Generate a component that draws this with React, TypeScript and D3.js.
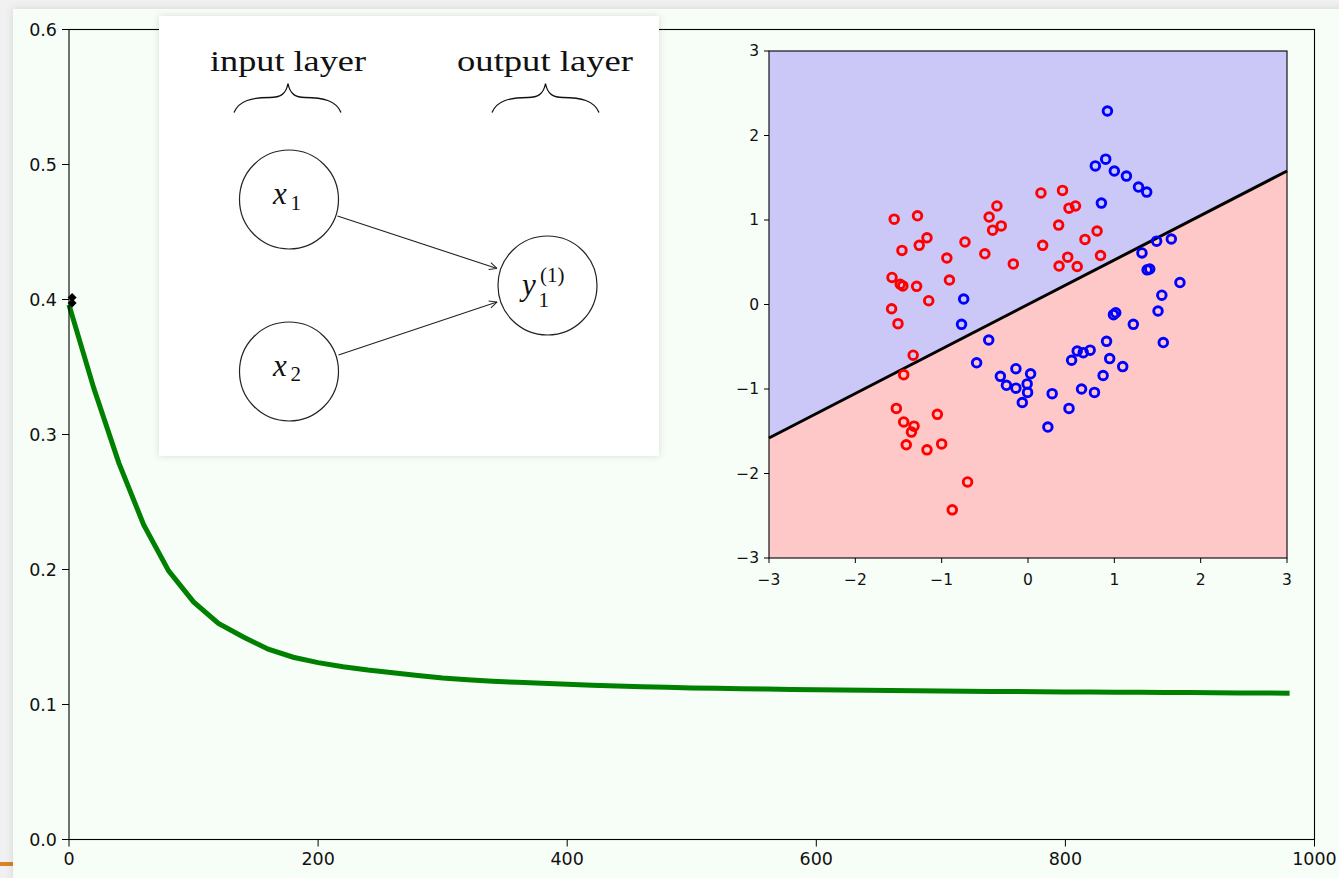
import React from 'react';
import * as d3 from 'd3';

// ---------- main loss curve ----------
const epochs = [0, 20, 40, 60, 80, 100, 120, 140, 160, 180, 200, 220, 240, 260, 280, 300, 320, 340, 360, 380,
  400, 420, 440, 460, 480, 500, 520, 540, 560, 580, 600, 620, 640, 660, 680, 700, 720, 740, 760, 780,
  800, 820, 840, 860, 880, 900, 920, 940, 960, 980];
const loss = [0.396, 0.334, 0.279, 0.233, 0.199, 0.176, 0.160, 0.150, 0.141, 0.135, 0.131, 0.128, 0.1255, 0.1235,
  0.1215, 0.1196, 0.1183, 0.1173, 0.1164, 0.1157, 0.1150, 0.1143, 0.1137, 0.1132, 0.1127, 0.1123, 0.1120,
  0.1117, 0.1114, 0.1112, 0.1110, 0.1108, 0.1106, 0.1104, 0.1102, 0.1100, 0.1099, 0.1097, 0.1096, 0.1095,
  0.1093, 0.1092, 0.1091, 0.1090, 0.1089, 0.1088, 0.1087, 0.1086, 0.1085, 0.1084];
const startMarkerX = [2.5, 2.5];
const startMarkerY = [0.4015, 0.3975];
const mainXTicks = [0, 200, 400, 600, 800, 1000];
const mainYTicks = [0.0, 0.1, 0.2, 0.3, 0.4, 0.5, 0.6];

// ---------- inset scatter ----------
const redX = [-1.55, -1.28, -1.46, -1.26, -1.17, -0.94, -0.73, -0.50, -0.45, -0.36, -0.31, -0.41, -0.17, 0.15, 0.17,
  -1.575, -1.48, -1.45, -1.29, -0.91, -1.15, -1.58, 0.40, 0.475, 0.55, 0.355, 0.80, 0.66, 0.46, 0.36, 0.57, 0.84,
  -1.506, -1.33, -1.44, -1.525, -1.44, -1.32, -1.35, -1.05, -1.41, -1.17, -1.00, -0.70, -0.877];
const redY = [1.01, 1.05, 0.64, 0.70, 0.79, 0.55, 0.74, 0.60, 1.035, 1.166, 0.93, 0.88, 0.48, 1.32, 0.70,
  0.32, 0.24, 0.22, 0.215, 0.29, 0.045, -0.05, 1.35, 1.14, 1.166, 0.94, 0.87, 0.77, 0.56, 0.455, 0.45, 0.58,
  -0.227, -0.60, -0.83, -1.23, -1.39, -1.44, -1.51, -1.30, -1.66, -1.72, -1.65, -2.10, -2.43];
const blueX = [0.92, 0.90, 0.78, 1.00, 1.14, 1.28, 1.375, 0.85, 1.49, 1.66, 1.32, 1.38, 1.41, 1.76, 1.55,
  -0.745, -0.77, -0.455, -0.595, -0.14, -0.32, 0.03, -0.25, -0.14, -0.01, -0.005, -0.066, 0.28, 0.23,
  1.506, 0.99, 1.016, 1.22, 1.567, 0.91, 0.57, 0.64, 0.72, 0.505, 0.946, 1.097, 0.87, 0.62, 0.77, 0.475];
const blueY = [2.29, 1.72, 1.64, 1.58, 1.52, 1.39, 1.33, 1.20, 0.75, 0.775, 0.61, 0.41, 0.42, 0.26, 0.11,
  0.065, -0.235, -0.42, -0.69, -0.76, -0.85, -0.82, -0.956, -0.99, -0.94, -1.04, -1.16, -1.055, -1.45,
  -0.077, -0.12, -0.097, -0.235, -0.45, -0.436, -0.55, -0.57, -0.54, -0.66, -0.64, -0.735, -0.84, -1.00, -1.04, -1.23];
const boundaryX = [-3, 3];
const boundaryY = [-1.58, 1.58];
const insetTicks = [-3, -2, -1, 0, 1, 2, 3];

const fmtMinus = (v: number) => String(v).replace('-', '\u2212');

export default function App() {
  const mx = d3.scaleLinear().domain([0, 1000]).range([69, 1314.5]);
  const my = d3.scaleLinear().domain([0, 0.6]).range([839.5, 29.5]);
  const ix = d3.scaleLinear().domain([-3, 3]).range([769, 1287]);
  const iy = d3.scaleLinear().domain([-3, 3]).range([558, 51]);

  const lossLine = d3.line<number>().x((_, i) => mx(epochs[i])).y((d) => my(d))(loss) || '';

  const bl = [ix(boundaryX[0]), iy(boundaryY[0])];
  const br = [ix(boundaryX[1]), iy(boundaryY[1])];
  const bluePoly = [[ix(-3), iy(3)], [ix(3), iy(3)], br, bl].map((p) => p.join(',')).join(' ');
  const redPoly = [bl, br, [ix(3), iy(-3)], [ix(-3), iy(-3)]].map((p) => p.join(',')).join(' ');

  const tickFont = { fontFamily: "'DejaVu Sans'", fill: '#111' } as const;
  const serif = 'Liberation Serif';

  const brace = (cx: number, left: number, right: number) => {
    const top = 83.5;
    const mid = 97.5;
    const bot = 112.5;
    return `M ${left},${bot} C ${left + 5},${mid + 3} ${left + 18},${mid} ${left + 36},${mid}
      C ${cx - 8},${mid} ${cx - 2},${mid - 3} ${cx},${top}
      C ${cx + 2},${mid - 3} ${cx + 8},${mid} ${right - 36},${mid}
      C ${right - 18},${mid} ${right - 5},${mid + 3} ${right},${bot}`;
  };

  return (
    <svg width={1339} height={878} style={{ position: 'absolute', left: 0, top: 0, display: 'block' }}>
      <defs>
        <filter id="cardShadow" x="-5%" y="-5%" width="110%" height="110%">
          <feDropShadow dx="0" dy="0" stdDeviation="4" floodColor="#000" floodOpacity="0.12" />
        </filter>
        <filter id="panelShadow" x="-10%" y="-10%" width="120%" height="120%">
          <feDropShadow dx="0" dy="0" stdDeviation="3.5" floodColor="#000" floodOpacity="0.13" />
        </filter>
        <marker id="arrowHead" viewBox="0 0 10 10" refX="9.5" refY="5" markerWidth="9" markerHeight="9"
          orient="auto" markerUnits="userSpaceOnUse">
          <path d="M 1,1 L 9.5,5 L 1,9" fill="none" stroke="#222" strokeWidth="1.1" />
        </marker>
      </defs>

      {/* page & card */}
      <rect x={0} y={0} width={1339} height={878} fill="#f1f1f2" />
      <rect x={0} y={862} width={14} height={4} fill="#d9822b" />
      <rect x={13} y={9} width={1340} height={880} fill="#f7fdf7" filter="url(#cardShadow)" />

      {/* main axes */}
      <g>
        <path d={lossLine} fill="none" stroke="#008000" strokeWidth={5} strokeLinejoin="miter" />
        {startMarkerX.map((v, i) => {
          const cx = mx(v);
          const cy = my(startMarkerY[i]);
          return <path key={i} d={`M ${cx - 4.5},${cy} L ${cx},${cy - 4.5} L ${cx + 4.5},${cy} L ${cx},${cy + 4.5} Z`} fill="#000" />;
        })}
        <rect x={mx(0)} y={my(0.6)} width={mx(1000) - mx(0)} height={my(0) - my(0.6)} fill="none" stroke="#000" strokeWidth={1.1} />
        {mainYTicks.map((t) => (
          <g key={t}>
            <line x1={mx(0) - 7} x2={mx(0)} y1={my(t)} y2={my(t)} stroke="#000" strokeWidth={1} />
            <text x={mx(0) - 12} y={my(t)} dy="0.35em" textAnchor="end" fontSize={17.5} style={tickFont}>
              {t.toFixed(1)}
            </text>
          </g>
        ))}
        {mainXTicks.map((t) => (
          <g key={t}>
            <line x1={mx(t)} x2={mx(t)} y1={my(0)} y2={my(0) + 7} stroke="#000" strokeWidth={1} />
            <text x={mx(t)} y={865} textAnchor="middle" fontSize={17.5} style={tickFont}>
              {t}
            </text>
          </g>
        ))}
      </g>

      {/* network diagram panel */}
      <g>
        <rect x={159} y={16} width={500} height={440} fill="#ffffff" filter="url(#panelShadow)" />
        <text x={288} y={70.5} textAnchor="middle" fontSize={30} fontFamily={serif} fill="#111"
          textLength={156} lengthAdjust="spacingAndGlyphs">input layer</text>
        <text x={545} y={70.5} textAnchor="middle" fontSize={30} fontFamily={serif} fill="#111"
          textLength={176} lengthAdjust="spacingAndGlyphs">output layer</text>
        <path d={brace(288, 234, 341)} fill="none" stroke="#111" strokeWidth={1.3} />
        <path d={brace(545.5, 492, 599)} fill="none" stroke="#111" strokeWidth={1.3} />

        <circle cx={289} cy={199.5} r={49.5} fill="none" stroke="#222" strokeWidth={1.2} />
        <circle cx={289} cy={371.5} r={49.5} fill="none" stroke="#222" strokeWidth={1.2} />
        <circle cx={547.5} cy={285.5} r={49.5} fill="none" stroke="#222" strokeWidth={1.2} />

        <line x1={337.5} y1={216} x2={497} y2={268.5} stroke="#222" strokeWidth={1.1} markerEnd="url(#arrowHead)" />
        <line x1={338.5} y1={355} x2={497} y2={302} stroke="#222" strokeWidth={1.1} markerEnd="url(#arrowHead)" />

        <text x={273} y={204} fontSize={31} fontFamily={serif} fontStyle="italic" fill="#111">x</text>
        <text x={290.5} y={209.5} fontSize={21} fontFamily={serif} fill="#111">1</text>
        <text x={273} y={376} fontSize={31} fontFamily={serif} fontStyle="italic" fill="#111">x</text>
        <text x={290.5} y={381} fontSize={21} fontFamily={serif} fill="#111">2</text>
        <text x={522} y={295} fontSize={31} fontFamily={serif} fontStyle="italic" fill="#111">y</text>
        <text x={538.5} y={306.5} fontSize={21} fontFamily={serif} fill="#111">1</text>
        <text x={540} y={282} fontSize={21} fontFamily={serif} fill="#111">(1)</text>
      </g>

      {/* inset scatter */}
      <g>
        <polygon points={bluePoly} fill="#cbc8f8" />
        <polygon points={redPoly} fill="#fec8c8" />
        <line x1={bl[0]} y1={bl[1]} x2={br[0]} y2={br[1]} stroke="#000" strokeWidth={3} />
        {redX.map((v, i) => (
          <circle key={'r' + i} cx={ix(v)} cy={iy(redY[i])} r={4.3} fill="none" stroke="#ff0000" strokeWidth={2.9} />
        ))}
        {blueX.map((v, i) => (
          <circle key={'b' + i} cx={ix(v)} cy={iy(blueY[i])} r={4.3} fill="none" stroke="#0000ff" strokeWidth={2.9} />
        ))}
        <rect x={ix(-3)} y={iy(3)} width={ix(3) - ix(-3)} height={iy(-3) - iy(3)} fill="none" stroke="#000" strokeWidth={1.1} />
        {insetTicks.map((t) => (
          <g key={'iy' + t}>
            <line x1={ix(-3) - 5} x2={ix(-3)} y1={iy(t)} y2={iy(t)} stroke="#000" strokeWidth={1} />
            <text x={ix(-3) - 10} y={iy(t)} dy="0.35em" textAnchor="end" fontSize={15.5} style={tickFont}>
              {fmtMinus(t)}
            </text>
          </g>
        ))}
        {insetTicks.map((t) => (
          <g key={'ix' + t}>
            <line x1={ix(t)} x2={ix(t)} y1={iy(-3)} y2={iy(-3) + 5} stroke="#000" strokeWidth={1} />
            <text x={ix(t)} y={584.5} textAnchor="middle" fontSize={15.5} style={tickFont}>
              {fmtMinus(t)}
            </text>
          </g>
        ))}
      </g>
    </svg>
  );
}
